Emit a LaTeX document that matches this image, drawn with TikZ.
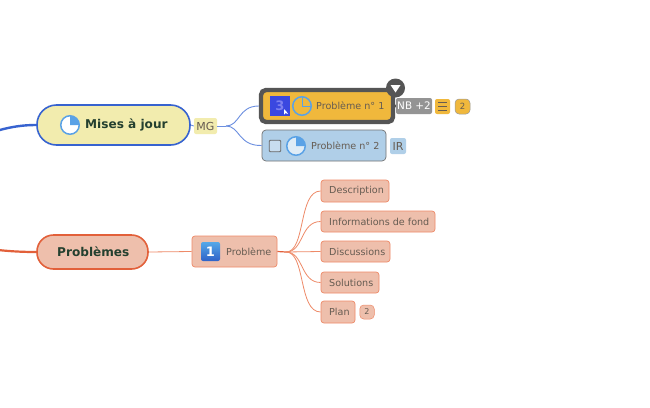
\documentclass[tikz,border=0pt]{standalone}
\usepackage{fontspec}
\setmainfont{DejaVu Sans}
\definecolor{blueL}{HTML}{3763D0}
\definecolor{blueT}{HTML}{6C8FE0}
\definecolor{redL}{HTML}{E2603A}
\definecolor{redT}{HTML}{EE8A68}
\definecolor{yel}{HTML}{F2ECAE}
\definecolor{sal}{HTML}{EEBFAC}
\definecolor{org}{HTML}{F0B83C}
\definecolor{lblue}{HTML}{B0CFE8}
\definecolor{dk}{HTML}{555555}
\definecolor{ink}{HTML}{24402F}
\definecolor{tx}{HTML}{665C52}
\definecolor{pieB}{HTML}{5AA2E6}
\definecolor{iconA}{HTML}{3A48E0}
\definecolor{iconAt}{HTML}{7C80F0}
\definecolor{iconT}{HTML}{55A8E8}
\definecolor{iconB}{HTML}{2F62C8}
\tikzset{
 x=1pt,y=-1pt,
 main/.style={draw,line width=1.6pt,inner sep=0pt},
 sub/.style={draw=redT,fill=sal,line width=.7pt,rounded corners=3pt,inner sep=0pt},
 lab/.style={inner sep=0pt,anchor=west,text=tx,font=\fontsize{9.6}{11}\selectfont},
 big/.style={inner sep=0pt,anchor=west,text=ink,font=\fontsize{12.1}{14}\bfseries\selectfont},
 tag/.style={rounded corners=2pt,inner sep=0pt,text=tx,font=\fontsize{11}{13}\selectfont},
 badge/.style={draw=black!40,rounded corners=4pt,line width=.5pt,inner sep=0pt,text=tx,font=\fontsize{8.5}{10}\selectfont},
 bl/.style={draw=blueT,line width=.9pt},
 rl/.style={draw=redT,line width=.8pt},
 pie/.style={circle,minimum size=18.5pt,inner sep=0pt,draw=pieB,line width=1.5pt},
}
\begin{document}
\begin{tikzpicture}
\useasboundingbox (0,0) rectangle (650,407);
\fill[white] (0,0) rectangle (650,407);
% main nodes
\node[main,draw=blueL,fill=yel,minimum width=153pt,minimum height=40pt,rounded corners=19.5pt] (maj) at (113.5,125) {};
\node[main,draw=redL,fill=sal,minimum width=111pt,minimum height=34pt,rounded corners=16.5pt] (pbs) at (92.5,252) {};
\node[big] (majt) at (85,125) {Mises à jour};
\node[big] (pbst) at (57,252) {Problèmes};
\coordinate (edgeA) at (-2,130.5);
\coordinate (edgeB) at (-2,250);
\draw[draw=blueL,line width=2.4pt] (edgeA) .. controls (12,126.5) and (24,125) .. (maj.west);
\draw[draw=redL,line width=2.2pt] (edgeB) .. controls (12,251.5) and (24,252) .. (pbs.west);
% MG
\node[tag,fill=yel,minimum width=23pt,minimum height=16pt] (mg) at (205.5,126) {MG};
\draw[bl] (maj.east) -- (mg.west);
% problem 1
\node[draw=dk,fill=org,line width=4.4pt,rounded corners=5pt,minimum width=132pt,minimum height=32pt,inner sep=0pt] (p1) at (327,106) {};
\node[draw=black!55,fill=lblue,line width=.7pt,rounded corners=4pt,minimum width=124pt,minimum height=31pt,inner sep=0pt] (p2) at (324,145.5) {};
\coordinate (forkA) at (226,126);
\draw[bl] (mg.east) -- (forkA);
\draw[bl] (forkA) .. controls (240,126) and (238,106) .. (p1.west);
\draw[bl] (forkA) .. controls (240,126) and (238,146) .. (p2.west);
% icon 3
\node[fill=iconA,minimum size=20pt,inner sep=0pt,text=iconAt,font=\fontsize{13}{15}\bfseries\selectfont] (ic3) at (280,106) {3};
\fill[white] (284,109) -- (284,114.5) -- (285.5,113) -- (288,114) -- (286.6,111.8) -- cycle;
% pies
\node[pie,fill=org] (pie1) at (302,106) {};
\draw[pieB,line width=1pt] (pie1.center) -- (302,97) (pie1.center) -- (311,106);
\node[pie,fill=white!60!lblue] (pie2) at (296,146) {};
\fill[pieB] (pie2.center) -- (296,137) arc[start angle=90,end angle=0,radius=9pt] -- cycle;
\node[pie,fill=white] (pie3) at (70,125) {};
\fill[pieB] (pie3.center) -- (70,116) arc[start angle=90,end angle=0,radius=9pt] -- cycle;
\node[lab] (p1t) at (316,106) {Problème n° 1};
\node[lab] (p2t) at (311,146) {Problème n° 2};
\node[draw=black!60,fill=lblue!70!white,line width=.8pt,rounded corners=1pt,minimum size=11.5pt,inner sep=0pt] (chk) at (275,146) {};
% handle
\fill[dk] (394,106) -- (400,101) -- (400,111) -- cycle;
\node[circle,fill=dk,minimum size=19pt,inner sep=0pt] (hnd) at (395.5,88) {};
\fill[white] (390.5,85) -- (400.5,85) -- (395.5,92.5) -- cycle;
% tags
\node[tag,fill=black!42,text=white,minimum width=36pt,minimum height=16pt,font=\fontsize{10.4}{13}\selectfont] (nb) at (414,106) {NB +2};
\node[tag,fill=org,minimum width=15pt,minimum height=15pt] (note) at (442.5,106.5) {};
\draw[tx,line width=.9pt] (438,102.5) -- (447,102.5) (438,106.5) -- (447,106.5) (438,110.5) -- (447,110.5);
\node[badge,fill=org,minimum width=15pt,minimum height=15pt] (bd1) at (462.5,106.5) {2};
\node[tag,fill=lblue,minimum width=16pt,minimum height=16pt] (ir) at (398,146) {IR};
% problem
\node[sub,minimum width=85pt,minimum height=31pt] (pb) at (234.5,251.5) {};
\node[rounded corners=2pt,top color=iconT,bottom color=iconB,minimum size=19pt,inner sep=0pt,text=white,font=\fontsize{13}{15}\bfseries\selectfont] (ic1) at (210.5,251.5) {1};
\node[lab] (pbt) at (226,251.5) {Problème};
\draw[rl] (pbs.east) -- (pb.west);
% children
\node[sub,minimum width=68pt,minimum height=22pt] (c1) at (355,191) {};
\node[sub,minimum width=114pt,minimum height=21pt] (c2) at (378,221.5) {};
\node[sub,minimum width=69pt,minimum height=21pt] (c3) at (355.5,251.5) {};
\node[sub,minimum width=58pt,minimum height=21pt] (c4) at (350,282.5) {};
\node[sub,minimum width=34pt,minimum height=22pt] (c5) at (338,312) {};
\node[lab] (c1t) at (329,191) {Description};
\node[lab] (c2t) at (329,221.5) {Informations de fond};
\node[lab] (c3t) at (329,251.5) {Discussions};
\node[lab] (c4t) at (329,282.5) {Solutions};
\node[lab] (c5t) at (329,312) {Plan};
\node[badge,draw=redT,fill=sal,minimum width=14.5pt,minimum height=14pt,font=\fontsize{8}{10}\selectfont] (bd2) at (367,312) {2};
\coordinate (forkB) at (286,252);
\draw[redL,line width=1.2pt] (pb.east) -- (forkB);
\draw[rl] (forkB) .. controls (306,252) and (298,191) .. (c1.west);
\draw[rl] (forkB) .. controls (304,252) and (300,221.5) .. (c2.west);
\draw[rl] (forkB) -- (c3.west);
\draw[rl] (forkB) .. controls (304,252) and (300,282.5) .. (c4.west);
\draw[rl] (forkB) .. controls (306,252) and (298,312) .. (c5.west);
\end{tikzpicture}
\end{document}
